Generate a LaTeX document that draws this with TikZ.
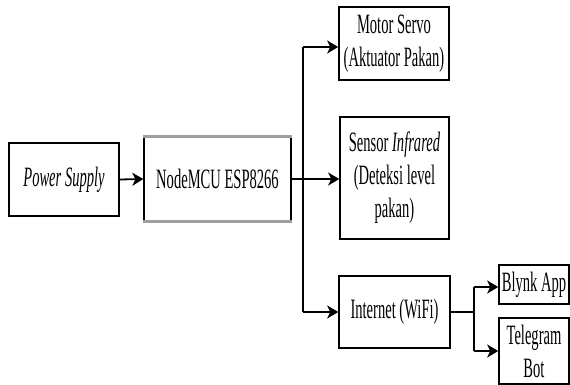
\documentclass[tikz,border=0pt]{standalone}
\usepackage{fontspec}
\setmainfont[FakeStretch=0.52]{Liberation Serif}
\usetikzlibrary{arrows.meta}
\begin{document}
\begin{tikzpicture}[x=1pt,y=-1pt,
  box/.style={draw, line width=1.6pt, align=center, inner sep=0pt,
    font=\fontsize{28}{33}\selectfont},
  conn/.style={line width=1.8pt},
  arr/.style={conn, -{Stealth[length=11pt,width=13pt,inset=3pt]}}]
\fill[white] (0,0) rectangle (570,385);
\useasboundingbox (0,0) rectangle (570,385);

\node[box, minimum width=110pt, minimum height=73pt] (ps) at (64,179.5) {\itshape Power Supply};
\node[box, line width=1.3pt, minimum width=147pt, minimum height=84pt] (mcu) at (217.5,179) {NodeMCU ESP8266};
\draw[gray!75, line width=3pt] (mcu.north west) -- (mcu.north east);
\draw[gray!75, line width=3pt] (mcu.south west) -- (mcu.south east);
\node[box, minimum width=110pt, minimum height=73pt] (motor) at (394,43.5) {Motor Servo\\(Aktuator Pakan)};
\node[box, minimum width=109pt, minimum height=122pt] (sensor) at (394.5,178) {Sensor \textit{Infrared}\\(Deteksi level\\pakan)};
\node[box, minimum width=111pt, minimum height=72pt] (inet) at (394.5,312) {Internet (WiFi)};
\node[box, minimum width=70pt, minimum height=39pt] (blynk) at (534,284.5) {Blynk App};
\node[box, minimum width=70pt, minimum height=66pt] (tele) at (534,351) {Telegram\\Bot};

\coordinate (jt) at (303,47);
\coordinate (jb) at (303,312);
\coordinate (k) at (474,312);
\coordinate (kt) at (474,287);
\coordinate (kb) at (474,351);

\draw[arr] (ps.east) -- (mcu.west);
\draw[arr] (mcu.east) -- (mcu.east -| sensor.west);
\draw[conn] (jt) -- (jb);
\draw[arr] (jt) -- (jt -| motor.west);
\draw[arr] (jb) -- (inet.west);
\draw[conn] (inet.east) -- (k);
\draw[conn] (kt) -- (kb);
\draw[arr] (kt) -- (kt -| blynk.west);
\draw[arr] (kb) -- (kb -| tele.west);
\end{tikzpicture}
\end{document}
